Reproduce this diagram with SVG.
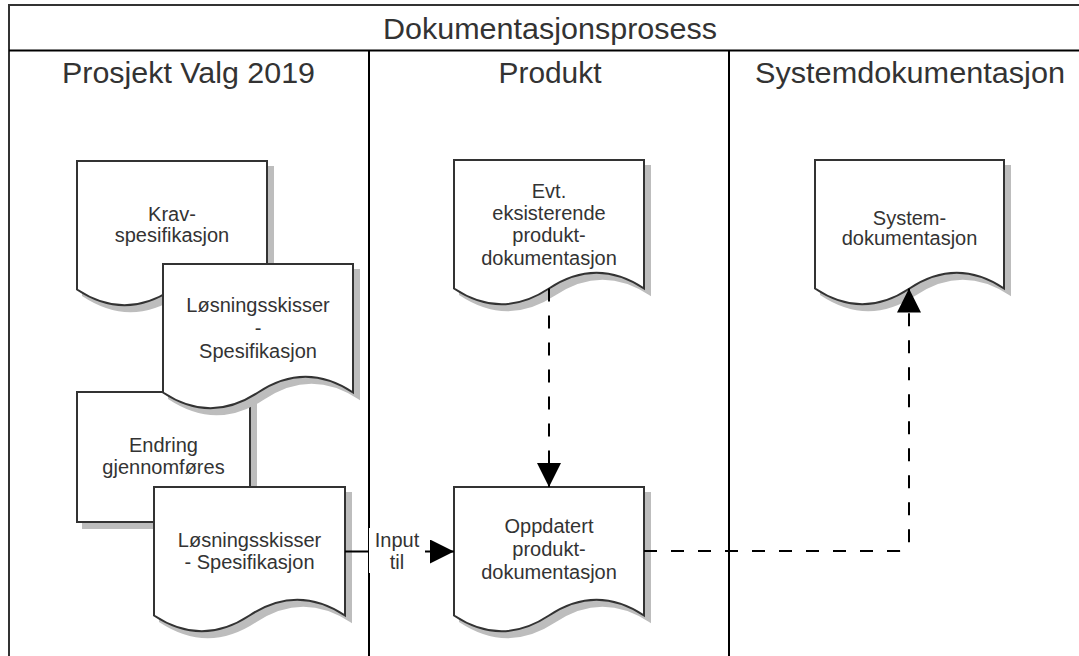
<svg xmlns="http://www.w3.org/2000/svg" width="1079" height="656" viewBox="0 0 1079 656">
<style>
.frame{fill:none;stroke:#000;stroke-width:2}
.hdr{font-family:"Liberation Sans",Arial,sans-serif;font-size:29px;fill:#333;text-anchor:middle}
.txt{font-family:"Liberation Sans",Arial,sans-serif;font-size:20px;fill:#333;text-anchor:middle}
.shape{fill:#fff;stroke:#333;stroke-width:2}
.shadow{fill:#bdbdbd;stroke:#bdbdbd;stroke-width:2}
.solid{fill:none;stroke:#000;stroke-width:2}
.dash{fill:none;stroke:#000;stroke-width:2;stroke-dasharray:13 14}
</style>
<defs>
<marker id="arrow" markerUnits="userSpaceOnUse" markerWidth="24" markerHeight="24" viewBox="0 0 22 22" refX="22" refY="11" orient="auto">
<path d="M0,0 L22,11 L0,22 Z" fill="#000"/>
</marker>
</defs>
<rect width="1079" height="656" fill="#fff"/>
<g id="pool">
<rect x="9" y="5" width="1082" height="700" fill="#fff" stroke="#333" stroke-width="2"/>
<line class="frame" x1="9" y1="50.5" x2="1091" y2="50.5"/>
<line class="frame" x1="369" y1="50.5" x2="369" y2="656"/>
<line class="frame" x1="729" y1="50.5" x2="729" y2="656"/>
<text class="hdr" x="550" y="38.5" textLength="334" lengthAdjust="spacingAndGlyphs">Dokumentasjonsprosess</text>
<text class="hdr" x="188.5" y="83" textLength="253" lengthAdjust="spacingAndGlyphs">Prosjekt Valg 2019</text>
<text class="hdr" x="550" y="82.5" textLength="103" lengthAdjust="spacingAndGlyphs">Produkt</text>
<text class="hdr" x="910" y="82.5" textLength="310" lengthAdjust="spacingAndGlyphs">Systemdokumentasjon</text>
</g>
<g id="krav">
<path class="shadow" transform="translate(6,6)" d="M77,161 H267 V289.5 Q219.5,258 172,289.5 Q124.5,321 77,289.5 Z"/>
<path class="shape" d="M77,161 H267 V289.5 Q219.5,258 172,289.5 Q124.5,321 77,289.5 Z"/>
<text class="txt" x="172" y="221">Krav-</text>
<text class="txt" x="172" y="242">spesifikasjon</text>
</g>
<g id="endring">
<rect class="shadow" x="83" y="398" width="173" height="130"/>
<rect class="shape" x="77" y="392" width="173" height="130"/>
<text class="txt" x="163.5" y="451.5">Endring</text>
<text class="txt" x="163.5" y="474">gjennomføres</text>
</g>
<g id="losning1">
<path class="shadow" transform="translate(6,6)" d="M163,264 H353 V392.5 Q305.5,361 258,392.5 Q210.5,424 163,392.5 Z"/>
<path class="shape" d="M163,264 H353 V392.5 Q305.5,361 258,392.5 Q210.5,424 163,392.5 Z"/>
<text class="txt" x="258" y="311.5">Løsningsskisser</text>
<text class="txt" x="258" y="334.5">-</text>
<text class="txt" x="258" y="357.5">Spesifikasjon</text>
</g>
<g id="losning2">
<path class="shadow" transform="translate(6,6)" d="M154,487 H345 V615.5 Q297.25,584 249.5,615.5 Q201.75,647 154,615.5 Z"/>
<path class="shape" d="M154,487 H345 V615.5 Q297.25,584 249.5,615.5 Q201.75,647 154,615.5 Z"/>
<text class="txt" x="249.5" y="546.5">Løsningsskisser</text>
<text class="txt" x="249.5" y="568.5">- Spesifikasjon</text>
</g>
<g id="evt">
<path class="shadow" transform="translate(6,6)" d="M454,160 H644 V288.5 Q596.5,257 549,288.5 Q501.5,320 454,288.5 Z"/>
<path class="shape" d="M454,160 H644 V288.5 Q596.5,257 549,288.5 Q501.5,320 454,288.5 Z"/>
<text class="txt" x="549" y="198">Evt.</text>
<text class="txt" x="549" y="219.5">eksisterende</text>
<text class="txt" x="549" y="242">produkt-</text>
<text class="txt" x="549" y="265">dokumentasjon</text>
</g>
<g id="oppdatert">
<path class="shadow" transform="translate(6,6)" d="M454,487 H644 V615.5 Q596.5,584 549,615.5 Q501.5,647 454,615.5 Z"/>
<path class="shape" d="M454,487 H644 V615.5 Q596.5,584 549,615.5 Q501.5,647 454,615.5 Z"/>
<text class="txt" x="549" y="533">Oppdatert</text>
<text class="txt" x="549" y="556">produkt-</text>
<text class="txt" x="549" y="579">dokumentasjon</text>
</g>
<g id="system">
<path class="shadow" transform="translate(6,6)" d="M815,160 H1004 V288.5 Q956.75,257 909.5,288.5 Q862.25,320 815,288.5 Z"/>
<path class="shape" d="M815,160 H1004 V288.5 Q956.75,257 909.5,288.5 Q862.25,320 815,288.5 Z"/>
<text class="txt" x="909.5" y="225">System-</text>
<text class="txt" x="909.5" y="245">dokumentasjon</text>
</g>
<g id="connectors">
<path class="dash" d="M549,288.5 V487" marker-end="url(#arrow)"/>
<path class="dash" d="M644,551 H899 Q909,551 909,541 V288.5" marker-end="url(#arrow)"/>
<path class="solid" d="M345,551.5 H454" marker-end="url(#arrow)"/>
<rect x="369" y="528" width="56" height="45" fill="#fff"/>
<text class="txt" x="397" y="546.5">Input</text>
<text class="txt" x="397" y="568.5">til</text>
</g>
</svg>
